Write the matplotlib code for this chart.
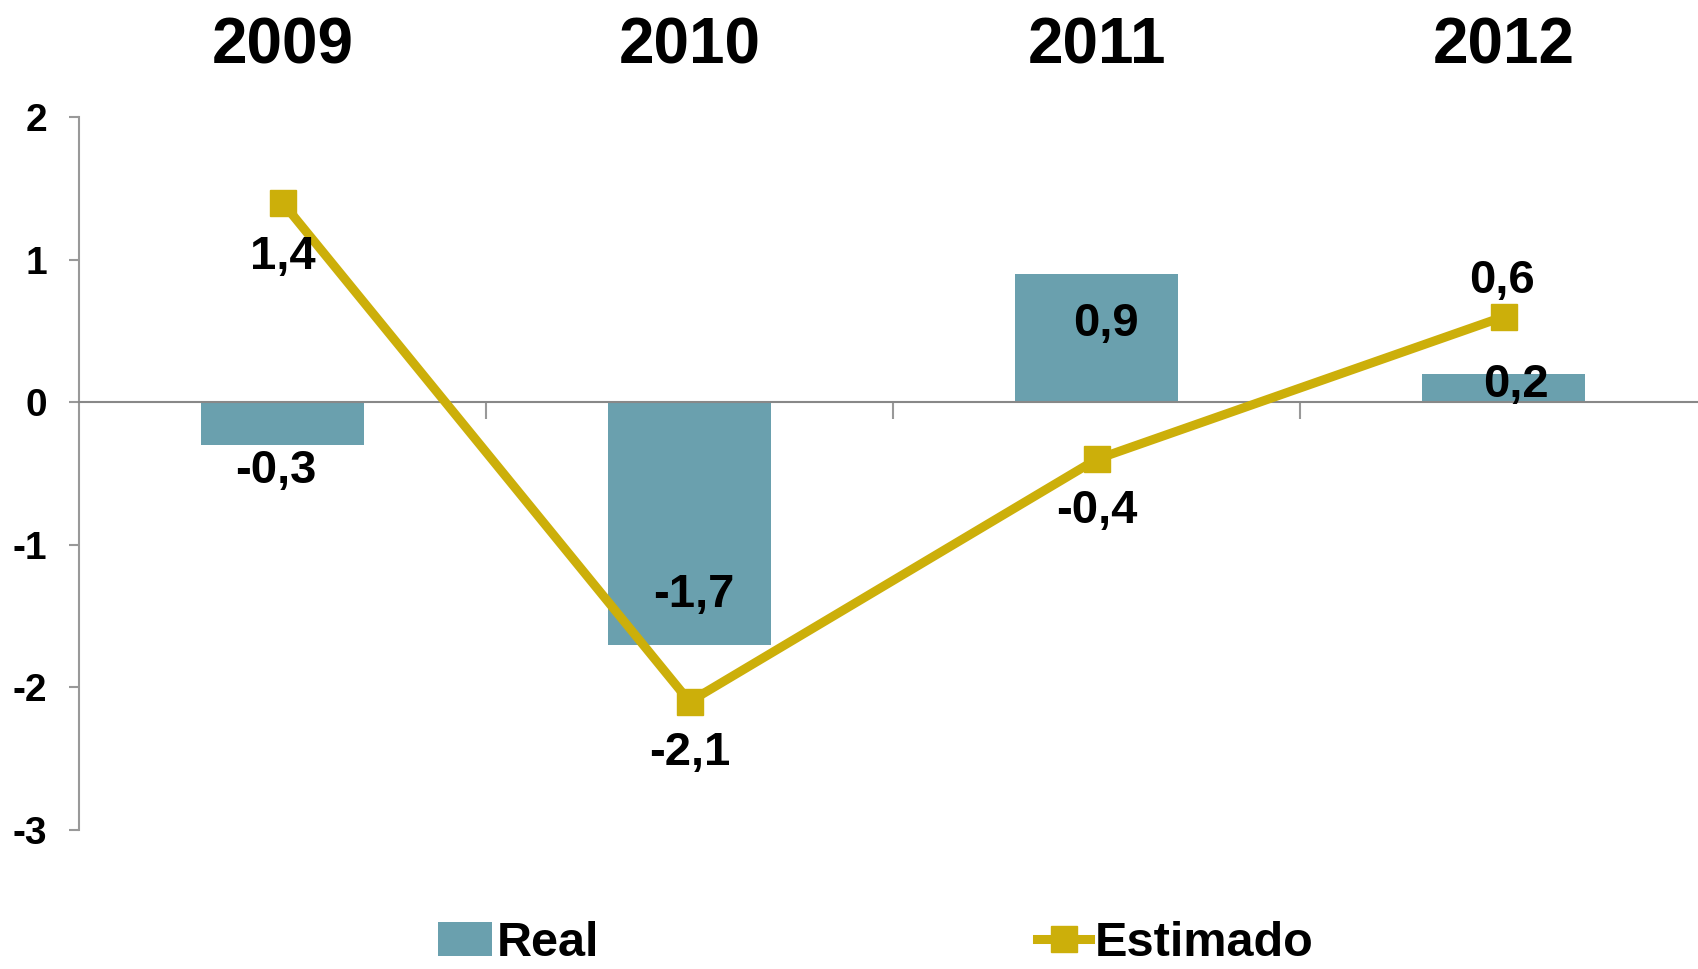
import matplotlib.pyplot as plt
from matplotlib.transforms import blended_transform_factory

plt.rcParams['font.family'] = ['Liberation Sans', 'DejaVu Sans']
plt.rcParams['font.weight'] = 'bold'

years = ['2009', '2010', '2011', '2012']
real = [-0.3, -1.7, 0.9, 0.2]
estimado = [1.4, -2.1, -0.4, 0.6]

# label offsets in points (dx, dy)
real_offsets = [(-5, -19), (3, 36), (7, -36), (9, -8)]
est_offsets = [(0, -39), (0, -37), (0, -37), (-1, 26)]

bar_color = '#6AA0AE'
line_color = '#CCAF0A'

fig = plt.figure(figsize=(16.98, 9.69), dpi=100)
ax = fig.add_axes([0.0465, 0.1434, 0.959, 0.7359])

x = list(range(len(years)))
bars = ax.bar(x, real, width=0.4, color=bar_color, label='Real', zorder=2)
line, = ax.plot(x, estimado, color=line_color, lw=6.5, marker='s', markersize=19,
                label='Estimado', zorder=3)

def fmt(v):
    return f'{v:.1f}'.replace('.', ',')

for xi, v, (dx, dy) in zip(x, real, real_offsets):
    ax.annotate(fmt(v), (xi, v), xytext=(dx, dy), textcoords='offset points',
                ha='center', va='center', fontsize=34, fontweight='bold', zorder=4)
for xi, v, (dx, dy) in zip(x, estimado, est_offsets):
    ax.annotate(fmt(v), (xi, v), xytext=(dx, dy), textcoords='offset points',
                ha='center', va='center', fontsize=34, fontweight='bold', zorder=4)

trans = blended_transform_factory(ax.transData, ax.transAxes)
for xi, y in zip(x, years):
    ax.text(xi, 1.099, y, transform=trans, ha='center', va='center',
            fontsize=46, fontweight='bold')

ax.set_xlim(-0.5, len(years) - 0.5)
ax.set_ylim(-3, 2)
ax.set_yticks([-3, -2, -1, 0, 1, 2])
ax.set_yticklabels(['-3', '-2', '-1', '0', '1', '2'])
ax.set_xticks([0.5, 1.5, 2.5])
ax.set_xticklabels([])

for s in ['top', 'right']:
    ax.spines[s].set_visible(False)
ax.spines['bottom'].set_position(('data', 0))
ax.spines['bottom'].set_color('#888888')
ax.spines['left'].set_color('#999999')
ax.spines['bottom'].set_linewidth(1.5)
ax.spines['left'].set_linewidth(1.5)
ax.tick_params(axis='x', direction='out', length=12, width=1.5, color='#999999')
ax.tick_params(axis='y', direction='out', length=7, width=1.5, color='#999999',
               labelsize=28, pad=16)

fig.legend([bars, line], ['Real', 'Estimado'], loc='center',
           bbox_to_anchor=(0.516, 0.026), ncol=2, frameon=False,
           handlelength=1.1, handletextpad=0.1, columnspacing=9,
           prop={'weight': 'bold', 'size': 35})

fig.savefig('out.png', dpi=100)
